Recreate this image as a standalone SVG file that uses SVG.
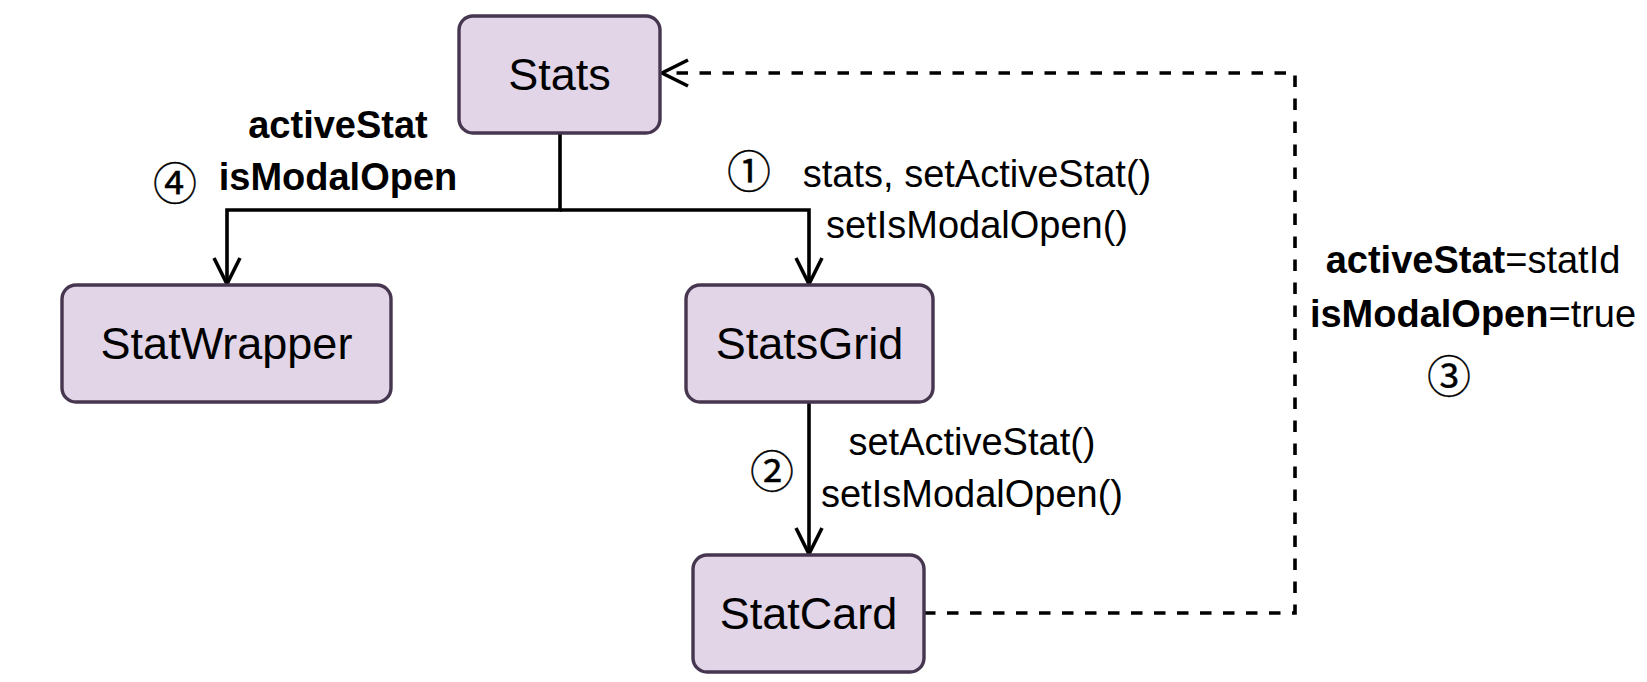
<svg xmlns="http://www.w3.org/2000/svg" width="1647" height="682" viewBox="0 0 1647 682">
<style>
.node rect{fill:#e1d5e7;stroke:#46364f;stroke-width:3.4}
.node text{font-family:"Liberation Sans",Arial,sans-serif;font-size:45px;fill:#000;text-anchor:middle}
.edge{fill:none;stroke:#000;stroke-width:3.6}
.dash{stroke-dasharray:11.5 11.5}
.lbl{font-family:"Liberation Sans",Arial,sans-serif;font-size:38px;fill:#000;text-anchor:middle}
.b{font-weight:bold}
.num{font-family:"Noto Sans CJK SC","Noto Sans CJK JP",sans-serif;font-size:44px;fill:#000;stroke:#000;stroke-width:0.3;text-anchor:middle;dominant-baseline:central}
</style>
<defs>
<marker id="open" viewBox="0 0 30 30" refX="28" refY="15" markerWidth="30" markerHeight="30" markerUnits="userSpaceOnUse" orient="auto">
<path d="M2,2 L28,15 L2,28" fill="none" stroke="#000" stroke-width="3.6"/>
</marker>
</defs>
<rect width="1647" height="682" fill="#fff"/>
<g id="connectors">
<path class="edge" d="M560,133 V210 H227 V284" marker-end="url(#open)"/>
<path class="edge" d="M560,210 H809 V284" marker-end="url(#open)"/>
<path class="edge" d="M809,402 V554" marker-end="url(#open)"/>
<path class="edge dash" d="M924,613 H1295 V73 H662" marker-end="url(#open)"/>
</g>
<g id="labels">
<text class="lbl b" x="338" y="138">activeStat</text>
<text class="lbl b" x="338" y="190">isModalOpen</text>
<text class="num" x="175" y="181">④</text>
<text class="num" x="749" y="169">①</text>
<text class="lbl" x="977" y="187">stats, setActiveStat()</text>
<text class="lbl" x="977" y="238">setIsModalOpen()</text>
<text class="num" x="772" y="469">②</text>
<text class="lbl" x="972" y="455">setActiveStat()</text>
<text class="lbl" x="972" y="507">setIsModalOpen()</text>
<text class="lbl" x="1473" y="273"><tspan class="b">activeStat</tspan>=statId</text>
<text class="lbl" x="1473" y="327"><tspan class="b">isModalOpen</tspan>=true</text>
<text class="num" x="1449" y="374">③</text>
</g>
<g id="Stats" class="node">
<rect x="459" y="16" width="201" height="117" rx="14"/>
<text x="559.5" y="90">Stats</text>
</g>
<g id="StatWrapper" class="node">
<rect x="62" y="285" width="329" height="117" rx="14"/>
<text x="226.5" y="359">StatWrapper</text>
</g>
<g id="StatsGrid" class="node">
<rect x="686" y="285" width="247" height="117" rx="14"/>
<text x="809.5" y="359">StatsGrid</text>
</g>
<g id="StatCard" class="node">
<rect x="693" y="555" width="231" height="117" rx="14"/>
<text x="808.5" y="629">StatCard</text>
</g>
</svg>
